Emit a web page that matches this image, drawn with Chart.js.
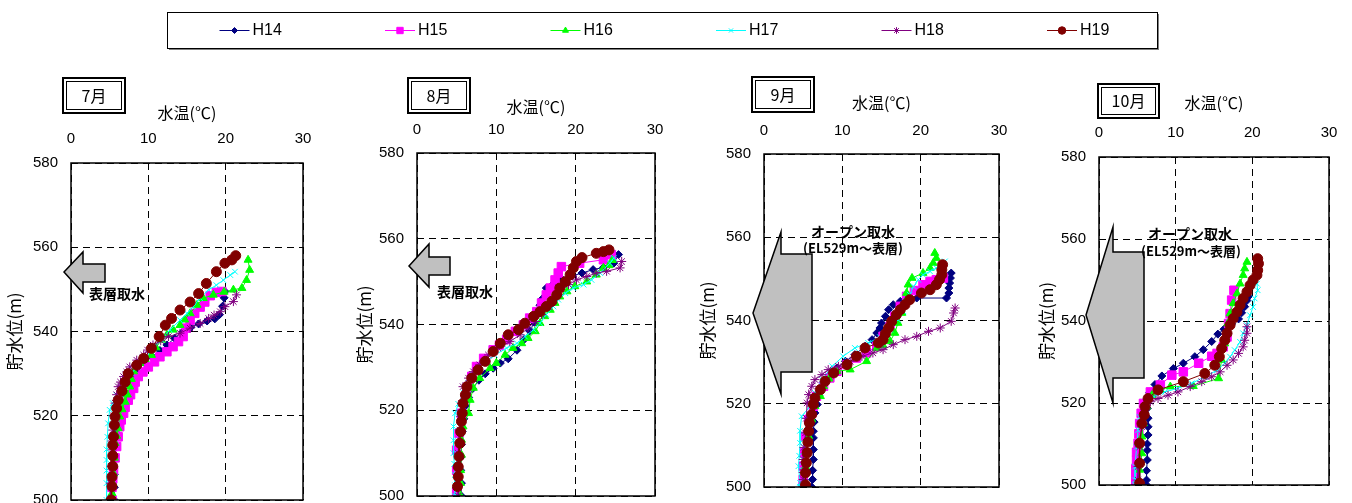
<!DOCTYPE html>
<html>
<head>
<meta charset="utf-8">
<script src="https://cdn.jsdelivr.net/npm/chart.js@4.4.0/dist/chart.umd.min.js"></script>
<style>
html, body { margin: 0; padding: 0; background: #fff; width: 1352px; height: 503px; overflow: hidden; }
canvas { position: absolute; }
</style>
</head>
<body>
<canvas id="legend"></canvas>
<canvas id="c7"></canvas>
<canvas id="c8"></canvas>
<canvas id="c9"></canvas>
<canvas id="c10"></canvas>
<script>
// series
const seriesNames = ['H14', 'H15', 'H16', 'H17', 'H18', 'H19'];
const seriesColors = ['#000080', '#FF00FF', '#00FF00', '#00FFFF', '#800080', '#800000'];
const pointStyles = ['rectRot', 'rect', 'triangle', 'crossRot', 'star', 'circle'];
const pointSizes = [4, 6, 4.6, 4, 4.5, 5];

// axis ticks
const tempTicks = [0, 10, 20, 30];
const elevTicks = [500, 520, 540, 560, 580];

// [水温(℃), 貯水位(m)]
const jul_H14 = [[19.9,549.5],[19.8,548],[19.6,546],[19.2,544],[18.6,543],[17.6,542.5],[16.5,541.8],[15.5,541],[14.5,540],[13.4,538.4],[12.4,536.8],[11.5,535.5],[10.5,534],[9.5,532.6],[8.7,531],[8,529.4],[7.3,527.5],[6.8,525.5],[6.4,523.5],[6.1,521.5],[5.9,519],[5.8,516],[5.7,513],[5.6,510],[5.6,506],[5.6,503],[5.6,500]];
const jul_H15 = [[19.5,549.5],[18.8,549.3],[18,548.5],[17.3,547],[16.7,545.8],[16,544.3],[15.4,542.7],[14.9,540.8],[14.5,538.8],[13.9,537.6],[13.2,536.4],[12.4,535.2],[11.5,534],[10.8,532.8],[10,531.6],[9.3,530.4],[8.7,529.3],[8.3,528],[8.1,526.5],[7.7,525],[7.4,523.7],[7,522],[6.8,520.6],[6.5,519],[6.3,517.4],[6.1,515],[5.9,512.7],[5.7,510],[5.5,507],[5.4,505],[5.3,503],[5.3,500]];
const jul_H16 = [[22.9,557],[23.1,554.6],[22.7,552.2],[22.1,550.3],[21,549.9],[19.8,549.4],[18.4,548.7],[17.1,547.9],[16.3,546.3],[15.4,544.3],[14.7,542.8],[14.1,541.5],[13.2,540.4],[12.4,539.2],[11.7,538],[11,536.2],[10.4,534.4],[9.6,533.4],[8.9,532.5],[8.1,530.5],[7.8,528.7],[7.6,526.9],[7.3,525],[7,523.3],[6.6,521.5],[6.3,519.8],[6.1,517],[5.9,515.2],[5.7,513.5],[5.6,510],[5.5,506.3],[5.4,504],[5.3,501.6],[5.3,500]];
const jul_H17 = [[21.2,554.2],[20.6,553.4],[19.7,552.2],[18.8,551],[17.8,549.9],[16.7,547.9],[15.8,545.9],[15,544.3],[14.1,542.7],[12.8,540.4],[11.7,538],[10.4,535.6],[9.4,533.2],[8.6,531.6],[7.8,530.1],[6.8,527.3],[5.9,524.9],[5.4,523],[5,521.4],[4.8,518.2],[4.7,515],[4.6,512],[4.6,509.5],[4.6,507],[4.6,504],[4.6,500]];
const jul_H18 = [[21.4,548.7],[21,547.1],[19.9,545.9],[19.3,544.7],[18.5,543.9],[17.8,543.1],[16.7,541.9],[15.4,540.8],[14.1,539.6],[12.6,538.8],[11.6,537.8],[10.6,536.8],[9.9,535.6],[9.4,534.4],[8.5,533.2],[7.6,531.6],[7.2,530.4],[6.8,529.3],[6.4,528],[6.1,526.9],[5.9,525],[5.7,523],[5.5,520],[5.4,516.6],[5.3,514],[5.3,511.9],[5.2,508],[5.1,504],[5.1,500]];
const jul_H19 = [[21.3,558],[20.8,557],[19.9,556.2],[18.8,554.2],[17.5,551.4],[16.5,549],[15.4,547],[14.1,545.1],[13,543.1],[12.2,541.5],[11.4,538.8],[10.4,536],[9.4,533.6],[8.5,532],[7.4,530],[7,528],[6.6,525.9],[6.1,523.7],[5.9,521.8],[5.7,519.8],[5.6,517.8],[5.5,515],[5.4,513],[5.4,510.5],[5.4,508],[5.3,505.5],[5.3,503.2],[5.2,500]];

const aug_H14 = [[25.4,556.3],[24.8,554.3],[23.5,553.3],[22.2,552.8],[20.8,552],[19.5,551.3],[18.3,550.5],[17.2,549.5],[16.3,548.5],[15.8,546],[15.5,544.5],[15.2,542.5],[14.8,540.5],[14.2,538.5],[13.5,536.5],[12.6,534],[11.5,532],[10.5,531],[9.6,529.8],[8.6,528.5],[7.8,527],[7,525],[6.5,523],[6.1,521],[5.9,518],[5.7,515],[5.6,512],[5.5,509],[5.5,506],[5.6,503],[5.6,500]];
const aug_H15 = [[24.5,556.3],[23.5,555.1],[20.5,554.3],[18.2,553.5],[17.8,552],[17.4,550.4],[16.8,548.5],[16.3,546.9],[15.7,545],[15.1,543],[14.2,541.5],[13.4,539.9],[12.4,538.4],[11.3,536.5],[10.4,535.2],[9.6,534.1],[8.4,532.1],[7.5,530.2],[6.9,527.9],[6.5,525.5],[6.1,522.8],[5.6,519.3],[5.3,514.6],[5,510.7],[5,506],[5,501],[5,500]];
const aug_H16 = [[24.6,555],[24.2,553.8],[23.5,553.2],[22.6,551.6],[21.4,550],[19.9,548.9],[18.9,547.7],[18,546.5],[17.4,545],[16.8,543.4],[16.1,541.9],[15.5,540.3],[14.9,538.4],[14,536.8],[13.2,535.6],[12.1,534.5],[11.1,532.9],[10,531],[9.2,529.8],[7.9,527.5],[7.1,525.2],[6.7,522.4],[6.5,519.3],[5.8,516.2],[5.6,513.1],[5.6,509.6],[5.5,506],[5.5,503],[5.5,500]];
const aug_H17 = [[24.8,555.5],[24.3,554.3],[23.1,552],[22,550.4],[21,549.3],[19.7,548.5],[18.7,547.3],[17.8,545.8],[17.2,544.2],[16.3,542.3],[15.5,540.3],[14.7,538.8],[13.6,537.2],[12.6,535.6],[11.3,534.5],[9.8,532.9],[8.8,531.4],[7.9,529.8],[7.1,528.2],[6.5,526.3],[5.9,524],[5.2,521.5],[4.8,519.3],[4.6,516.2],[4.6,513],[4.6,510],[4.7,507.5],[4.8,504.9],[4.8,502.5],[4.8,500]];
const aug_H18 = [[25.8,554.7],[25.6,553.2],[23.9,552.4],[22.6,552],[21.4,551.2],[20.1,550.4],[19.1,549.3],[18,547.7],[17.2,545.8],[16.6,544.2],[15.7,542.3],[14.9,540.7],[14,539.2],[13,537.6],[11.7,536],[10.2,534.5],[9,532.9],[7.9,530.6],[7.1,529],[6.5,527.5],[5.8,525.5],[5.6,521.6],[5.5,518.5],[5.4,515.4],[5.3,512.5],[5.2,510],[5.2,507],[5.2,504.5],[5.2,500]];
const aug_H19 = [[24.2,557.4],[23.5,557],[22.6,556.6],[20.8,555.6],[20.1,554.7],[19.7,553.2],[19.3,551.6],[18.7,550],[18,548.5],[17.6,546.9],[17,545.4],[16.3,544.2],[15.5,543],[14.7,541.9],[13.6,540.3],[12.8,538.8],[11.5,537.6],[10.5,535.6],[9.6,533.7],[8.6,531.4],[7.7,529.4],[6.9,527.5],[6.3,525.5],[6.1,523.6],[5.8,521.6],[5.7,519.3],[5.6,517.4],[5.5,515],[5.4,512.3],[5.3,509.2],[5.2,506.8],[5.2,504.5],[5.1,502.2]];

const sep_H14 = [[23.9,551.4],[23.8,550.2],[23.7,549],[23.6,547.8],[23.6,546.6],[23.3,545.4],[19.5,545.4],[18.4,545],[17.4,544.6],[16.5,543.8],[15.9,542.6],[15.5,541],[15,539.4],[14.8,538.2],[14.4,537],[13.8,535.4],[12.9,533.8],[11.6,531.8],[10.4,530.2],[9.3,528.6],[8.3,526.5],[7.5,524],[7,522],[6.8,519.8],[6.5,517.8],[6.4,515.6],[6.3,513.4],[6.3,511.8],[6.3,509],[6.3,506.6],[6.2,504],[6.2,501.8],[6.1,500]];
const sep_H15 = [[22.9,550.2],[22,549.8],[21.2,549.4],[20.3,548.6],[19.2,547.2],[18.2,545.8],[17.4,543.4],[16.7,541],[16.1,538.6],[15.2,536.2],[14.4,533.8],[13.1,532.2],[11.8,531],[10.6,529.4],[9.3,527.8],[8.4,526.2],[7.6,524.2],[6.7,521.8],[6.3,519.4],[5.7,516.2],[5.3,512.2],[5.1,508.2],[5,505],[5,501.8],[5,500]];
const sep_H16 = [[21.8,556.2],[22,555],[21.6,553.8],[21.2,552.6],[20.3,551.4],[18.9,550.2],[18.4,548.6],[18.2,546.6],[17.9,544.2],[17.6,541.8],[17.1,539.4],[16.7,537],[16.1,535],[15.2,534],[14.4,533.4],[13.1,530.2],[11,528.2],[9.3,527.8],[8.3,526],[7.6,524.2],[7.2,521.8],[6.5,519.4],[6.1,516.2],[5.7,512.2],[5.5,508.5],[5.3,505],[5.3,501],[5.3,500]];
const sep_H17 = [[23.1,554.2],[22.6,553.4],[22,552.6],[21.2,551.8],[20.3,551],[19.7,549.8],[19.1,548.2],[18.6,546.2],[18.2,544.2],[17.8,542.2],[17.1,540.2],[16.1,537.8],[14.8,536],[13.3,534.6],[11.6,533.4],[10.1,531.4],[8.7,529],[7.4,525.8],[6.5,522.6],[5.9,519.4],[4.8,517],[4.6,513.5],[4.6,510.6],[4.5,507.5],[4.4,505],[4.6,501],[4.6,500]];
const sep_H18 = [[24.4,543],[24.2,541.8],[23.9,539.8],[22.5,538.2],[21,537.4],[19.5,536.2],[18,535.4],[16.5,534.2],[15.2,533],[13.9,532.2],[12.5,531.4],[11,530.2],[9.5,529],[8.2,528.2],[7.4,527],[6.5,525.8],[6.1,524.2],[5.7,522.2],[5.5,520.2],[5.4,516.5],[5.3,513],[5.1,509.5],[5,506.6],[5,503.5],[5,501.8],[5,500]];
const sep_H19 = [[22.8,553.4],[22.7,552.2],[22.7,551],[22.4,549.8],[22,548.6],[21.2,547.4],[20.1,546.6],[18.6,545],[18,543.8],[17.4,542.6],[16.9,541.4],[16.3,539.8],[15.9,538.2],[15.5,536.8],[15.2,535.4],[14.6,534.6],[12.9,533.4],[11.8,531.4],[10.6,529.4],[8.9,527.4],[7.8,525.4],[7.2,523.4],[6.5,521.4],[6.3,519.8],[6.1,517.4],[5.8,515.4],[5.7,513.4],[5.6,510.8],[5.5,508.2],[5.4,505.8],[5.3,503.4],[5.3,500.5]];

const oct_H14 = [[19.5,546],[19.3,545],[19,543.5],[18.6,542],[18.2,540.5],[17.3,539.3],[16.3,538],[15.5,536.8],[14.7,535],[13.6,533],[12.5,531.3],[11,529.7],[9.7,528.4],[8.2,526.6],[7.3,524.5],[6.6,522.5],[6.1,520.5],[6.3,518.7],[6.4,516.3],[6.4,514.2],[6.4,512.2],[6.3,510],[6.3,508.5],[6.3,506.1],[6.2,503.5],[6.2,501.2],[6.2,500]];
const oct_H15 = [[17.6,547.5],[17.3,545.1],[17.1,541.8],[16.9,539.4],[16.7,536.1],[16.2,533.7],[15.4,532.1],[14.7,531.4],[13,529.7],[11,527.6],[9.5,526.8],[8,524.4],[6.7,522.7],[5.8,519.9],[5.5,517.5],[5.3,515],[5.2,512.5],[5.1,510.2],[4.9,508],[4.9,506.1],[4.8,504],[4.8,502],[4.8,500]];
const oct_H16 = [[19.3,554.4],[19,552.8],[18.8,551.2],[18.4,549.1],[18,546.7],[17.5,544.3],[17.1,541.8],[16.8,539.4],[16.5,536.1],[16.4,534.5],[16,530.5],[15.6,526],[12.3,524.1],[9.3,524],[8,523.2],[6.9,521.9],[6.2,519.1],[5.8,515],[5.6,511.8],[5.6,507.7],[5.3,503.7],[5.3,500.5]];
const oct_H17 = [[20.6,549.1],[20.7,547.5],[20.3,545.5],[20.1,543.4],[19.7,541.4],[19.3,539],[18.8,537],[18.4,534.9],[17.7,532.9],[17.1,531.3],[16.4,529.7],[15.4,528],[13.8,526.4],[12.1,524.8],[10.3,523.6],[8.6,522.7],[7.1,521.5],[6,519.5],[5.3,516.6],[5.1,513.4],[4.9,509.3],[4.7,504.5],[4.7,501.2],[4.7,500]];
const oct_H18 = [[19.3,538.6],[19.3,537],[19,535.3],[18.8,533.7],[18.2,532.1],[17.5,530.5],[16.7,529.2],[15.8,527.6],[14.7,526.4],[13.4,525.2],[11.9,524],[10.3,522.7],[9,521.9],[7.7,521.1],[6.7,520.3],[6,518.3],[5.6,514.2],[5.3,509.3],[5.1,504.5],[5.1,501.2],[5.1,500]];
const oct_H19 = [[20.7,555.2],[20.8,554],[20.7,552.4],[20.6,551.2],[20.1,550],[19.7,548.7],[19.3,547.1],[18.8,545.5],[18.4,543.9],[18,542.2],[17.5,540.6],[17.1,539],[16.7,537],[16.4,535.3],[16,533.3],[15.7,531.3],[15.1,529.2],[13.8,527.2],[11,525.2],[7.7,523.2],[6.4,521.1],[6,519.1],[5.9,517.1],[5.6,515],[5.3,510.2],[5.3,505.3],[5.3,500.4]];

// layout of the four panels (page pixels)
const panels = [
    { id: 'c7', month: '7月', series: [jul_H14, jul_H15, jul_H16, jul_H17, jul_H18, jul_H19],
      plot: [71, 163, 303, 500], monthBox: [63, 78, 62, 35], xTitleY: 113, yTitleX: 15, tickGap: 15,
      arrow: [[64,272],[83,252],[83,264],[105,264],[105,282],[83,282],[83,293]],
      notes: [{ text: '表層取水', x: 89, y: 294, align: 'left', size: 14 }] },
    { id: 'c8', month: '8月', series: [aug_H14, aug_H15, aug_H16, aug_H17, aug_H18, aug_H19],
      plot: [417, 153, 655, 496], monthBox: [408, 78, 62, 35], xTitleY: 107, yTitleX: 365, tickGap: 14,
      arrow: [[409,266],[429,244],[429,257],[450,257],[450,275],[429,275],[429,287]],
      notes: [{ text: '表層取水', x: 437, y: 292, align: 'left', size: 14 }] },
    { id: 'c9', month: '9月', series: [sep_H14, sep_H15, sep_H16, sep_H17, sep_H18, sep_H19],
      plot: [764, 154, 999, 487], monthBox: [752, 77, 62, 35], xTitleY: 103, yTitleX: 708, tickGap: 14,
      arrow: [[753,313],[781,232],[781,254],[812,254],[812,372],[781,372],[781,394]],
      notes: [{ text: 'オープン取水', x: 853, y: 232, align: 'center', size: 14 },
              { text: '(EL529m～表層)', x: 853, y: 248, align: 'center', size: 13 }] },
    { id: 'c10', month: '10月', series: [oct_H14, oct_H15, oct_H16, oct_H17, oct_H18, oct_H19],
      plot: [1099, 157, 1329, 485], monthBox: [1098, 84, 61, 34], xTitleY: 103, yTitleX: 1047, tickGap: 15,
      arrow: [[1086,315],[1113,227],[1113,252],[1144,252],[1144,378],[1113,378],[1113,403]],
      notes: [{ text: 'オープン取水', x: 1190, y: 234, align: 'center', size: 14 },
              { text: '(EL529m～表層)', x: 1191, y: 251, align: 'center', size: 13 }] }
];

const CANVAS_TOP = 60;
const Y_AXIS_W = 70;
const X_AXIS_H = 64;
const EDGE_PAD = 30; // room for the tick overhang Chart.js reserves
const JP_FONT = '"Noto Sans CJK JP", "Noto Sans", sans-serif';

Chart.defaults.font.family = '"Liberation Sans", Arial, sans-serif';
Chart.defaults.color = '#000';

function makeDatasets(list) {
    return list.map((pts, i) => ({
        label: seriesNames[i],
        data: pts.map(p => ({ x: p[0], y: p[1] })),
        showLine: true,
        borderColor: seriesColors[i],
        backgroundColor: seriesColors[i],
        borderWidth: 1,
        pointStyle: pointStyles[i],
        pointRadius: pointSizes[i],
        pointBorderColor: seriesColors[i],
        pointBackgroundColor: seriesColors[i],
        pointBorderWidth: 1,
        order: 5 - i
    }));
}

function decorPlugin(p, ox, oy) {
    return {
        id: 'decor' + p.id,
        afterDraw(chart) {
            const ctx = chart.ctx;
            const a = chart.chartArea;
            ctx.save();
            // plot frame
            ctx.strokeStyle = '#000';
            ctx.lineWidth = 1.5;
            ctx.setLineDash([]);
            ctx.strokeRect(a.left, a.top, a.right - a.left, a.bottom - a.top);

            // intake arrow
            ctx.beginPath();
            p.arrow.forEach((pt, i) => {
                if (i === 0) ctx.moveTo(pt[0] - ox, pt[1] - oy);
                else ctx.lineTo(pt[0] - ox, pt[1] - oy);
            });
            ctx.closePath();
            ctx.fillStyle = '#C0C0C0';
            ctx.fill();
            ctx.lineWidth = 1.5;
            ctx.strokeStyle = '#000';
            ctx.stroke();

            // notes
            ctx.fillStyle = '#000';
            ctx.textBaseline = 'middle';
            p.notes.forEach(n => {
                ctx.font = 'bold ' + n.size + 'px ' + JP_FONT;
                ctx.textAlign = n.align;
                ctx.fillText(n.text, n.x - ox, n.y - oy);
            });

            // month box (double border)
            const [bx, by, bw, bh] = p.monthBox;
            ctx.fillStyle = '#fff';
            ctx.fillRect(bx - ox, by - oy, bw, bh);
            ctx.lineWidth = 2;
            ctx.strokeRect(bx - ox, by - oy, bw, bh);
            ctx.lineWidth = 1;
            ctx.strokeRect(bx - ox + 3.5, by - oy + 3.5, bw - 7, bh - 7);
            ctx.fillStyle = '#000';
            ctx.font = '16px ' + JP_FONT;
            ctx.textAlign = 'center';
            ctx.fillText(p.month, bx - ox + bw / 2, by - oy + bh / 2);
            ctx.restore();
        }
    };
}

panels.forEach(p => {
    const [pl, pt, pr, pb] = p.plot;
    const ox = pl - Y_AXIS_W;
    const oy = CANVAS_TOP;
    const canvas = document.getElementById(p.id);
    canvas.style.left = ox + 'px';
    canvas.style.top = oy + 'px';
    canvas.width = Y_AXIS_W + (pr - pl) + EDGE_PAD;
    canvas.height = (pb - oy) + EDGE_PAD;

    new Chart(canvas, {
        type: 'scatter',
        data: { datasets: makeDatasets(p.series) },
        plugins: [decorPlugin(p, ox, oy)],
        options: {
            responsive: false,
            animation: false,
            events: [],
            layout: { padding: { left: 0, top: pt - oy - X_AXIS_H, right: EDGE_PAD, bottom: EDGE_PAD } },
            plugins: { legend: { display: false }, tooltip: { enabled: false } },
            elements: { line: { tension: 0 } },
            scales: {
                x: {
                    type: 'linear',
                    position: 'top',
                    min: tempTicks[0],
                    max: tempTicks[tempTicks.length - 1],
                    afterFit: s => { s.height = X_AXIS_H; },
                    ticks: { stepSize: tempTicks[1] - tempTicks[0], padding: p.tickGap, font: { size: 15 }, color: '#000' },
                    grid: { color: '#000', lineWidth: 1, drawTicks: false },
                    border: { display: false, dash: [7, 5] },
                    title: {
                        display: true,
                        text: '水温(℃)',
                        font: { size: 16, family: JP_FONT },
                        color: '#000',
                        padding: { top: p.xTitleY - pt + X_AXIS_H - 9.6, bottom: 0 }
                    }
                },
                y: {
                    type: 'linear',
                    min: elevTicks[0],
                    max: elevTicks[elevTicks.length - 1],
                    afterFit: s => { s.width = Y_AXIS_W; },
                    ticks: { stepSize: elevTicks[1] - elevTicks[0], padding: 13, font: { size: 15 }, color: '#000' },
                    grid: { color: '#000', lineWidth: 1, drawTicks: false },
                    border: { display: false, dash: [7, 5] },
                    title: {
                        display: true,
                        text: '貯水位(m)',
                        font: { size: 17, family: JP_FONT },
                        color: '#000',
                        padding: { top: p.yTitleX - ox - 10.2, bottom: 0 }
                    }
                }
            }
        }
    });
});

// legend strip
const legendBox = [167, 12, 990, 36];
const legendStart = 219.5;
const legendStep = 165.5;
const legendPlugin = {
    id: 'legendStrip',
    afterDraw(chart) {
        const ctx = chart.ctx;
        const ox = 160, oy = 5;
        const [lx, ly, lw, lh] = legendBox;
        ctx.save();
        ctx.strokeStyle = '#808080';
        ctx.lineWidth = 2;
        ctx.beginPath();
        ctx.moveTo(lx - ox + 2, ly - oy + lh + 1);
        ctx.lineTo(lx - ox + lw + 1, ly - oy + lh + 1);
        ctx.lineTo(lx - ox + lw + 1, ly - oy + 2);
        ctx.stroke();
        ctx.strokeStyle = '#000';
        ctx.lineWidth = 1;
        ctx.strokeRect(lx - ox + 0.5, ly - oy + 0.5, lw, lh);
        const cy = ly - oy + lh / 2 + 0.5;
        chart.data.datasets.forEach((ds, i) => {
            const x0 = legendStart + legendStep * i - ox;
            ctx.strokeStyle = ds.borderColor;
            ctx.lineWidth = 1;
            ctx.beginPath();
            ctx.moveTo(x0, cy);
            ctx.lineTo(x0 + 30, cy);
            ctx.stroke();
            ctx.fillStyle = ds.backgroundColor;
            Chart.helpers.drawPoint(ctx, {
                pointStyle: ds.pointStyle,
                radius: ds.pointRadius * 0.75,
                rotation: 0,
                borderWidth: 1
            }, x0 + 15, cy);
            ctx.fillStyle = '#000';
            ctx.font = '16px "Liberation Sans", Arial, sans-serif';
            ctx.textAlign = 'left';
            ctx.textBaseline = 'middle';
            ctx.fillText(ds.label, x0 + 33, cy);
        });
        ctx.restore();
    }
};
const legendCanvas = document.getElementById('legend');
legendCanvas.style.left = '160px';
legendCanvas.style.top = '5px';
legendCanvas.width = 1010;
legendCanvas.height = 50;
new Chart(legendCanvas, {
    type: 'scatter',
    data: {
        datasets: seriesNames.map((name, i) => ({
            label: name,
            data: [],
            borderColor: seriesColors[i],
            backgroundColor: seriesColors[i],
            pointStyle: pointStyles[i],
            pointRadius: pointSizes[i]
        }))
    },
    plugins: [legendPlugin],
    options: {
        responsive: false,
        animation: false,
        events: [],
        plugins: { legend: { display: false }, tooltip: { enabled: false } },
        scales: { x: { display: false }, y: { display: false } }
    }
});
</script>
</body>
</html>
